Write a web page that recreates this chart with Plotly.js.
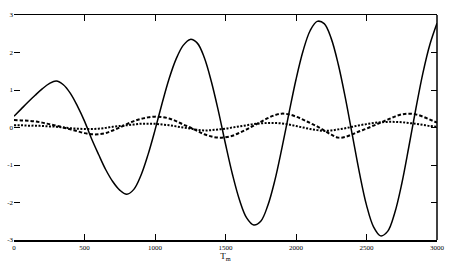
<!DOCTYPE html>
<html><head><meta charset="utf-8">
<script src="https://cdn.plot.ly/plotly-3.0.1.min.js"></script>
<style>html,body{margin:0;padding:0;background:#fff}#c{width:449px;height:262px}</style>
</head><body><div id="c"></div>
<script>
const tm = [0,50,100,150,200,250,300,350,400,450,500,550,600,650,700,750,800,850,900,950,1000,1050,1100,1150,1200,1250,1300,1350,1400,1450,1500,1550,1600,1650,1700,1750,1800,1850,1900,1950,2000,2050,2100,2150,2200,2250,2300,2350,2400,2450,2500,2550,2600,2650,2700,2750,2800,2850,2900,2950,3000];
const solid = [0.3,0.49,0.68,0.86,1.03,1.17,1.24,1.14,0.91,0.57,0.17,-0.3,-0.72,-1.12,-1.44,-1.67,-1.78,-1.65,-1.28,-0.73,-0.07,0.64,1.3,1.83,2.19,2.35,2.25,1.86,1.22,0.43,-0.44,-1.26,-1.94,-2.41,-2.6,-2.5,-2.08,-1.41,-0.55,0.38,1.28,2.04,2.58,2.83,2.77,2.37,1.68,0.79,-0.21,-1.21,-2.07,-2.65,-2.89,-2.77,-2.28,-1.5,-0.52,0.5,1.45,2.22,2.78];
const dashed = [0.2,0.19,0.18,0.16,0.13,0.09,0.05,0.0,-0.05,-0.1,-0.15,-0.18,-0.18,-0.15,-0.08,0.0,0.09,0.17,0.23,0.27,0.29,0.28,0.24,0.17,0.08,0.0,-0.09,-0.18,-0.24,-0.27,-0.26,-0.22,-0.14,-0.05,0.05,0.15,0.25,0.33,0.37,0.35,0.29,0.21,0.12,0.03,-0.08,-0.19,-0.27,-0.25,-0.18,-0.1,-0.03,0.05,0.13,0.21,0.29,0.35,0.37,0.35,0.29,0.21,0.13];
const dotted = [0.06,0.06,0.05,0.05,0.04,0.03,0.02,0.0,-0.02,-0.03,-0.04,-0.04,-0.03,-0.01,0.02,0.04,0.06,0.08,0.1,0.1,0.1,0.08,0.06,0.03,0.0,-0.03,-0.06,-0.08,-0.07,-0.05,-0.03,0.0,0.03,0.06,0.09,0.11,0.12,0.12,0.11,0.08,0.04,0.0,-0.04,-0.07,-0.09,-0.08,-0.05,-0.02,0.02,0.06,0.09,0.12,0.14,0.15,0.15,0.14,0.12,0.1,0.07,0.04,0.02];
const xTicks = [0,500,1000,1500,2000,2500,3000];
const yTicks = [-3,-2,-1,0,1,2,3];
const xTitle = 'T<sub>m</sub>';

const mk = (y, dash, w) => ({x: tm, y: y, type: 'scatter', mode: 'lines',
  line: {color: '#000', width: w, dash: dash, shape: 'spline', smoothing: 1}, showlegend: false, hoverinfo: 'skip'});
const data = [mk(dotted, '2px,1.5px', 2), mk(dashed, '3.5px,2px', 2), mk(solid, 'solid', 1.5)];
const tf = {family: 'Liberation Serif', size: 7, color: '#000'};
const layout = {
  width: 449, height: 262,
  margin: {l: 14, r: 12, t: 15, b: 22, pad: 0},
  paper_bgcolor: '#fff', plot_bgcolor: '#fff',
  showlegend: false,
  xaxis: {range: [0, 3000], tickvals: xTicks, ticktext: xTicks.map(String),
    showgrid: false, zeroline: false, showline: true, linecolor: '#000', linewidth: 1.5,
    mirror: 'ticks', ticks: 'inside', ticklen: 6, tickcolor: '#000', tickwidth: 1,
    tickfont: tf, automargin: false,
    title: {text: xTitle, font: {family: 'Liberation Serif', size: 9, color: '#000'}, standoff: 1}},
  yaxis: {range: [-3, 3], tickvals: yTicks, ticktext: yTicks.map(String),
    showgrid: false, zeroline: false, showline: false,
    mirror: 'ticks', ticks: 'inside', ticklen: 6, tickcolor: '#000', tickwidth: 1,
    tickfont: tf, automargin: false},
  shapes: [{type: 'line', xref: 'paper', yref: 'paper', x0: 1, x1: 1, y0: 0, y1: 1,
    line: {color: '#000', width: 1.5}}]
};
Plotly.newPlot('c', data, layout, {staticPlot: true, displayModeBar: false});
</script></body></html>
